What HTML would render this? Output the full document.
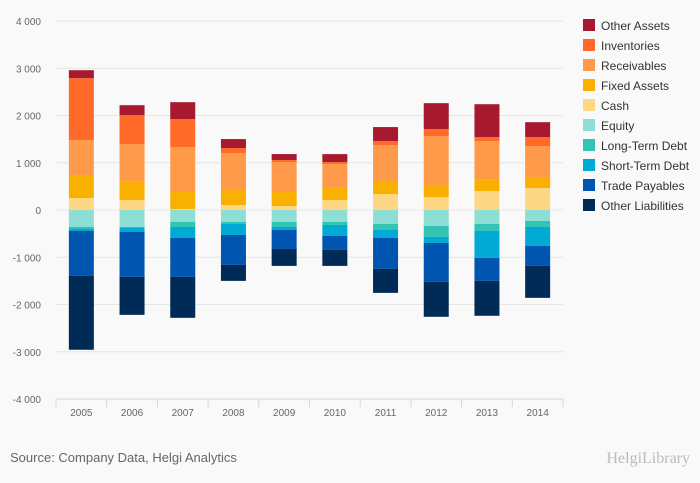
<!DOCTYPE html>
<html><head><meta charset="utf-8"><style>
body{margin:0;background:#f9f9f9;font-family:"Liberation Sans",sans-serif}
svg{display:block}
</style></head><body>
<svg id="c" width="700" height="483"></svg>
<script>
const years=["2005","2006","2007","2008","2009","2010","2011","2012","2013","2014"];
const otherAssets=[169,211,359,190,127,169,296,549,697,317];
const inventories=[1310,613,592,106,42,42,85,148,85,190];
const receivables=[740,782,951,782,613,486,761,1035,817,655];
const fixedAssets=[486,401,359,317,317,275,275,254,239,232];
const cash=[254,211,21,106,85,211,338,275,401,465];
const equity=[359,359,254,254,254,254,296,338,296,232];
const longTermDebt=[35,14,106,42,106,63,127,232,148,127];
const shortTermDebt=[50,92,232,232,63,232,169,127,570,401];
const tradePayables=[951,951,824,634,401,296,655,824,486,423];
const otherLiabilities=[1563,803,866,338,359,338,507,739,739,676];
const yTicks=[4000,3000,2000,1000,0,-1000,-2000,-3000,-4000];
const pos=[["cash",cash,"#fdd784","Cash"],["fixed-assets",fixedAssets,"#fab000","Fixed Assets"],["receivables",receivables,"#ff9a4a","Receivables"],["inventories",inventories,"#ff6a28","Inventories"],["other-assets",otherAssets,"#a6192e","Other Assets"]];
const neg=[["equity",equity,"#8ddfd5","Equity"],["long-term-debt",longTermDebt,"#33c4b3","Long-Term Debt"],["short-term-debt",shortTermDebt,"#00aad4","Short-Term Debt"],["trade-payables",tradePayables,"#0055b0","Trade Payables"],["other-liabilities",otherLiabilities,"#002b57","Other Liabilities"]];
const NS="http://www.w3.org/2000/svg",svg=document.getElementById('c');
const X0=56,X1=563,Y0=21,Y1=399;
const y=v=>210-v*(Y1-Y0)/8000;
const cw=(X1-X0)/years.length;
const xc=i=>X0+cw*(i+0.5);
function mk(t,a,p){const e=document.createElementNS(NS,t);for(const k in a)e.setAttribute(k,a[k]);(p||svg).appendChild(e);return e;}
yTicks.forEach(t=>{
 const l=mk('line',{x1:X0,x2:X1,y1:y(t),y2:y(t),stroke:t==-4000?'#ccd6eb':'#e6e6e6','stroke-width':1});
 
 
 const tx=mk('text',{x:41,y:y(t)+4,'text-anchor':'end','font-size':10,fill:'#666'});
 tx.textContent=t.toLocaleString('en-US').replace(',',' ');
 
 
});
for(let i=0;i<=years.length;i++){const l=mk('line',{x1:X0+cw*i,x2:X0+cw*i,y1:Y1,y2:Y1+8,stroke:'#ccd6eb'});
 
 }
years.forEach((yr,i)=>{
 const t=mk('text',{x:xc(i),y:416,'text-anchor':'middle','font-size':10,fill:'#666'});t.textContent=yr;
 
 
 let acc=0;
 pos.forEach(s=>{const v=s[1][i];const r=mk('rect',{x:xc(i)-12.5,width:25,y:y(acc+v),height:y(acc)-y(acc+v),fill:s[2]});acc+=v;
  
  });
 acc=0;
 neg.forEach(s=>{const v=s[1][i];const r=mk('rect',{x:xc(i)-12.5,width:25,y:y(acc),height:y(acc-v)-y(acc),fill:s[2]});acc-=v;
  
  });
});
const leg=pos.slice().reverse().concat(neg);
leg.forEach((s,j)=>{
 const g=mk('g',{});
 
 
 mk('rect',{x:583,y:19+j*20,width:12,height:12,fill:s[2]},g);
 const t=mk('text',{x:601,y:30+j*20,'font-size':12,fill:'#333'},g);t.textContent=s[3];
});
const src=mk('text',{x:10,y:462,'font-size':13,fill:'#666'});src.textContent='Source: Company Data, Helgi Analytics';


const lg=mk('text',{x:690,y:463,'text-anchor':'end','font-size':16,fill:'#bbb','font-family':'Liberation Serif'});lg.textContent='HelgiLibrary';


</script>
</body></html>
